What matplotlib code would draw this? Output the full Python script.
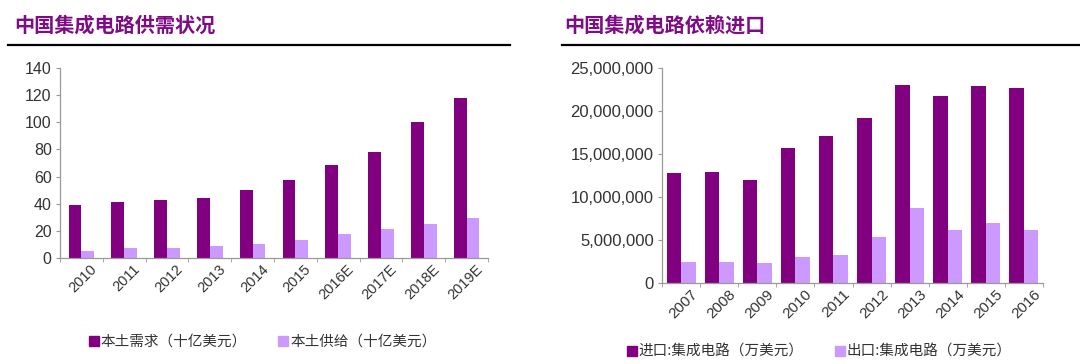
import numpy as np
import matplotlib
matplotlib.use("Agg")
import matplotlib.pyplot as plt
from matplotlib.lines import Line2D

plt.rcParams['font.family'] = ['Liberation Sans', 'Noto Sans CJK SC', 'DejaVu Sans']

# left chart data (十亿美元)
years_left = ['2010', '2011', '2012', '2013', '2014', '2015', '2016E', '2017E', '2018E', '2019E']
demand = [39.3, 41.5, 42.7, 44.2, 50.1, 57.5, 68.3, 77.9, 100.2, 117.9]
supply = [5.4, 7.1, 7.1, 9.1, 10.6, 13.0, 17.9, 21.6, 25.3, 29.7]

# right chart data (万美元)
years_right = ['2007', '2008', '2009', '2010', '2011', '2012', '2013', '2014', '2015', '2016']
imports = [12790000, 12900000, 11980000, 15700000, 17090000, 19150000, 23060000, 21780000, 22950000, 22710000]
exports = [2440000, 2440000, 2330000, 3060000, 3260000, 5350000, 8760000, 6120000, 6940000, 6120000]

dark = '#800080'
light = '#CC99FF'
W, H = 1080, 364

fig = plt.figure(figsize=(W / 100, H / 100), dpi=100)
fig.patch.set_facecolor('white')


def px_axes(x0, x1, y_top, y_bot):
    return fig.add_axes([x0 / W, (H - y_bot) / H, (x1 - x0) / W, (y_bot - y_top) / H])


def style(ax, n, ysize, xsize):
    for s in ['top', 'right']:
        ax.spines[s].set_visible(False)
    for s in ['left', 'bottom']:
        ax.spines[s].set_color('#999999')
        ax.spines[s].set_linewidth(0.9)
    ax.set_xlim(-0.5, n - 0.5)
    ax.tick_params(axis='y', colors='#999999', length=3, labelcolor='#333333', labelsize=ysize, pad=3)
    ax.tick_params(axis='x', which='major', length=0, labelcolor='#333333', labelsize=xsize, pad=3)
    ax.set_xticks(np.arange(n + 1) - 0.5, minor=True)
    ax.tick_params(axis='x', which='minor', length=3, colors='#999999')


# left chart
ax1 = px_axes(60, 488, 68, 258)
x = np.arange(len(years_left))
bw = 0.3
ax1.bar(x - bw / 2, demand, bw, color=dark)
ax1.bar(x + bw / 2, supply, bw, color=light)
style(ax1, len(years_left), 11.5, 10.5)
ax1.set_ylim(0, 140)
ax1.set_yticks(range(0, 141, 20))
ax1.set_xticks(x + 0.2)
ax1.set_xticklabels(years_left, rotation=45, ha='right', rotation_mode='anchor')

# right chart
ax2 = px_axes(662, 1043, 68, 283)
x2 = np.arange(len(years_right))
bw2 = 0.38
ax2.bar(x2 - bw2 / 2, imports, bw2, color=dark)
ax2.bar(x2 + bw2 / 2, exports, bw2, color=light)
style(ax2, len(years_right), 12, 11)
ax2.set_ylim(0, 25000000)
ax2.set_yticks(range(0, 25000001, 5000000))
ax2.set_yticklabels([f'{v:,}' for v in range(0, 25000001, 5000000)])
ax2.set_xticks(x2 + 0.25)
ax2.set_xticklabels(years_right, rotation=45, ha='right', rotation_mode='anchor')

# titles and rules
cjk = ['Noto Sans CJK SC', 'DejaVu Sans']
fig.text(14 / W, 1 - 25 / H, '中国集成电路供需状况', family=cjk, fontsize=14.5,
         fontweight='bold', color='#7E0C84', va='center')
fig.text(564 / W, 1 - 25 / H, '中国集成电路依赖进口', family=cjk, fontsize=14.5,
         fontweight='bold', color='#7E0C84', va='center')
fig.add_artist(Line2D([8 / W, 510 / W], [1 - 45 / H] * 2, color='black', lw=1.6))
fig.add_artist(Line2D([562 / W, 1.0], [1 - 45 / H] * 2, color='black', lw=1.6))


def sq(c):
    return Line2D([], [], marker='s', color=c, linestyle='none', markersize=7)


leg_kw = dict(ncol=2, frameon=False, handlelength=0.6, handletextpad=0.15,
              columnspacing=2.2, prop={'family': cjk, 'size': 10.5},
              loc='center left', labelcolor='#333333', borderaxespad=0)
fig.legend([sq(dark), sq(light)], ['本土需求（十亿美元）', '本土供给（十亿美元）'],
           bbox_to_anchor=(84 / W, 1 - 342 / H), **leg_kw)
fig.legend([sq(dark), sq(light)], ['进口:集成电路（万美元）', '出口:集成电路（万美元）'],
           bbox_to_anchor=(622 / W, 1 - 352 / H), **leg_kw)

fig.savefig('out.png', dpi=100, facecolor='white')
